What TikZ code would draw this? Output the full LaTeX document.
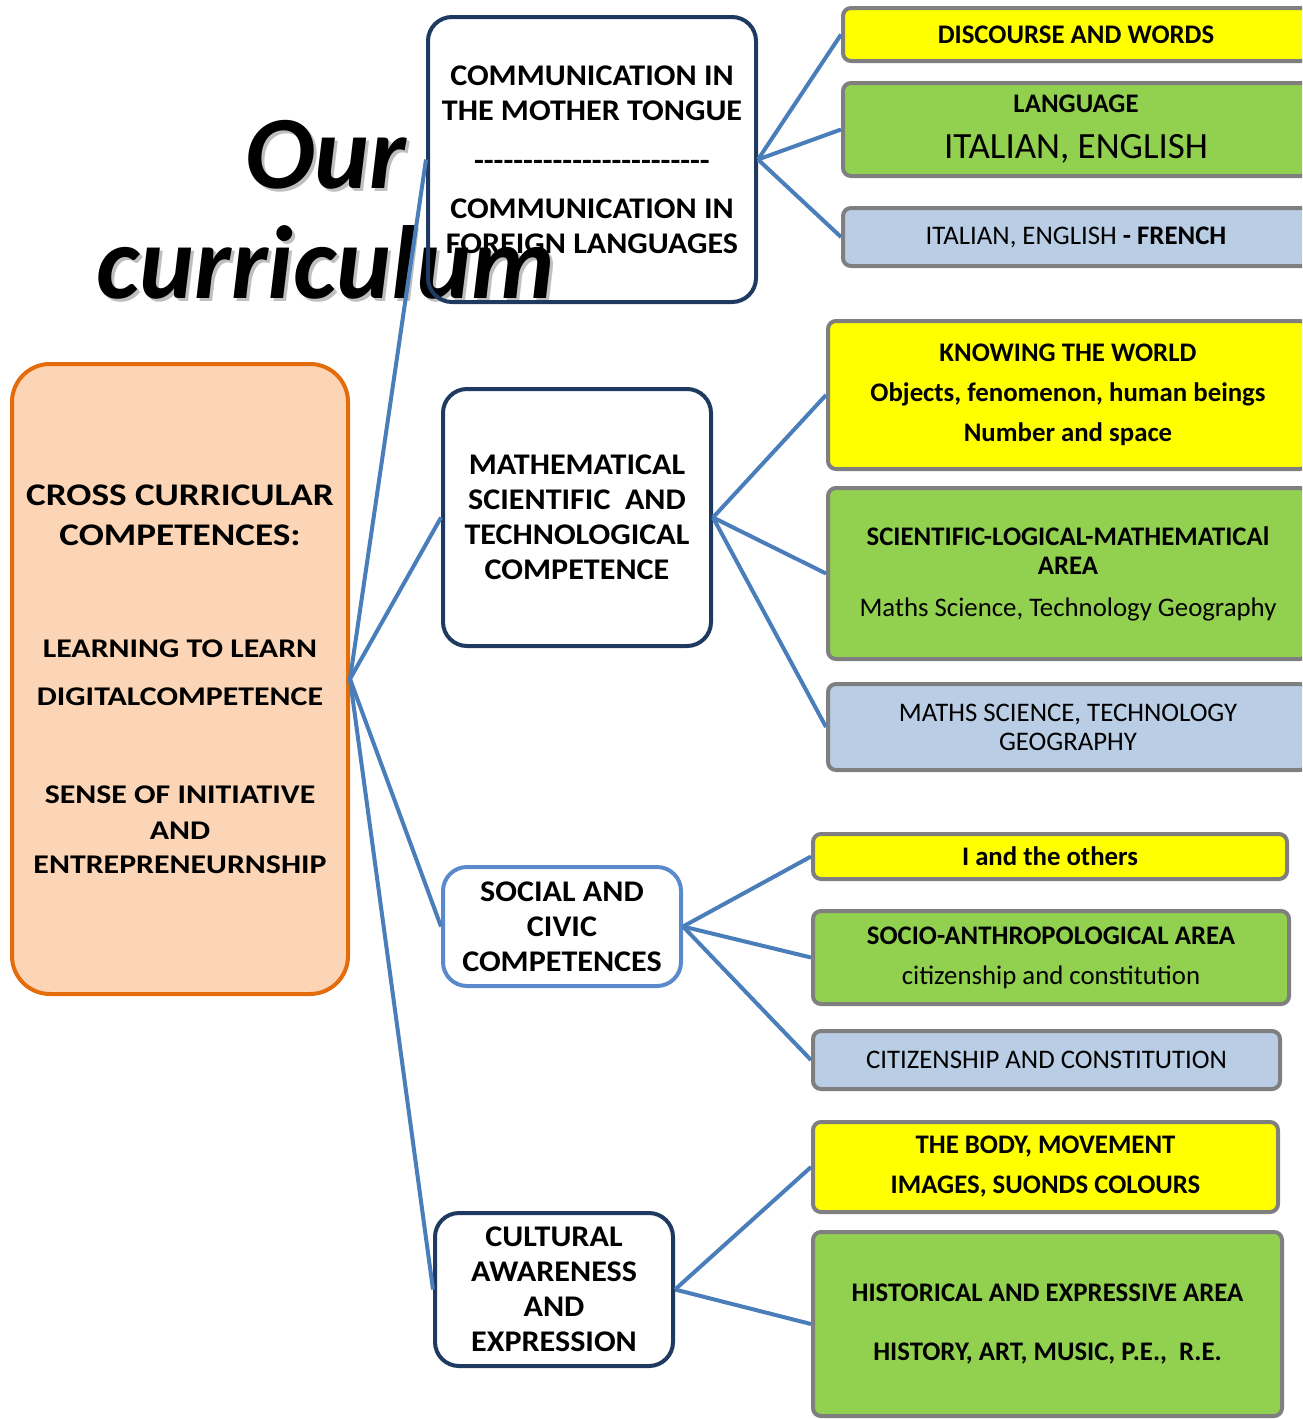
\documentclass[tikz,border=0pt]{standalone}
\usepackage{fontspec}
\setmainfont{Carlito}
\definecolor{rootfill}{HTML}{FBD5B5}
\definecolor{rootline}{HTML}{E46C0A}
\definecolor{topicline}{HTML}{1F3A60}
\definecolor{civicline}{HTML}{5A8ACB}
\definecolor{linkblue}{HTML}{4A7EBB}
\definecolor{leafline}{HTML}{7F7F7F}
\definecolor{leafyellow}{HTML}{FFFF00}
\definecolor{leafgreen}{HTML}{92D050}
\definecolor{leafblue}{HTML}{B9CDE5}
\newcommand\dashrow{\foreach \k in {1,...,24}{-\kern0pt}}
\begin{document}
\begin{tikzpicture}[x=1pt, y=-1pt,
  root/.style={draw=rootline, fill=rootfill, line width=4pt, rounded corners=38pt, align=center,
    font=\bfseries\addfontfeature{FakeStretch=1.18}\fontsize{27}{36}\selectfont},
  topic/.style={draw=topicline, line width=4pt, rounded corners=24pt, align=center,
    font=\bfseries\addfontfeature{FakeStretch=1.07}\fontsize{30}{35}\selectfont},
  leaf/.style={draw=leafline, line width=4pt, rounded corners=8pt, align=center,
    font=\fontsize{26.8}{40}\selectfont},
  link/.style={draw=linkblue, line width=4pt}]
 \clip (0,0) rectangle (1302,1419);

 % title
 \node[text=black!25, align=center, font=\bfseries\itshape\fontsize{104}{110}\selectfont] (titleshadow) at (329,213) {Our\\curriculum};
 \node[align=center, font=\bfseries\itshape\fontsize{104}{110}\selectfont] (title) at (326,210) {Our\\curriculum};

 % centre
 \node[root, minimum width=336pt, minimum height=630pt] (cross) at (180,679)
  {{\fontsize{31.5}{36}\selectfont CROSS CURRICULAR}\\[4pt]{\fontsize{31.5}{36}\selectfont COMPETENCES:}\\[76pt]
   LEARNING TO LEARN\\[12pt]DIGITALCOMPETENCE\\[62pt]SENSE OF INITIATIVE\\AND\\[-2pt]ENTREPRENEURNSHIP};

 % competences
 \node[topic, minimum width=328pt, minimum height=285pt] (comm) at (592,159.5)
  {COMMUNICATION IN\\THE MOTHER TONGUE\\[15pt]\dashrow\\[13pt]COMMUNICATION IN\\FOREIGN LANGUAGES};
 \node[topic, minimum width=268pt, minimum height=257pt] (math) at (577,517.5)
  {MATHEMATICAL\\SCIENTIFIC\ \ AND\\TECHNOLOGICAL\\COMPETENCE};
 \node[topic, draw=civicline, minimum width=238pt, minimum height=119pt] (civic) at (562,926.5)
  {SOCIAL AND\\CIVIC\\COMPETENCES};
 \node[topic, minimum width=238pt, minimum height=153pt] (culture) at (554,1289.5)
  {CULTURAL\\AWARENESS\\AND\\EXPRESSION};

 % areas
 \node[leaf, fill=leafyellow, minimum width=466pt, minimum height=53pt] (words) at (1076,34.5)
  {\textbf{DISCOURSE AND WORDS}};
 \node[leaf, fill=leafgreen, minimum width=466pt, minimum height=93pt] (language) at (1076,129.5)
  {\textbf{LANGUAGE}\\[6pt]{\fontsize{37}{40}\selectfont ITALIAN, ENGLISH}};
 \node[leaf, fill=leafblue, minimum width=466pt, minimum height=58pt] (french) at (1076,237)
  {ITALIAN, ENGLISH \textbf{- FRENCH}};

 \node[leaf, fill=leafyellow, minimum width=480pt, minimum height=148pt, font=\bfseries\fontsize{26.8}{40}\selectfont] (world) at (1068,395)
  {KNOWING THE WORLD\\Objects, fenomenon, human beings\\Number and space};
 \node[leaf, fill=leafgreen, minimum width=480pt, minimum height=171pt] (logic) at (1068,573.5)
  {\textbf{SCIENTIFIC-LOGICAL-MATHEMATICAl}\\[-11pt]\textbf{AREA}\\[2pt]Maths Science, Technology Geography};
 \node[leaf, fill=leafblue, minimum width=480pt, minimum height=86pt] (science) at (1068,727)
  {MATHS SCIENCE, TECHNOLOGY\\[-11pt]GEOGRAPHY};

 \node[leaf, fill=leafyellow, minimum width=474pt, minimum height=45pt] (others) at (1050,856.5)
  {\textbf{I and the others}};
 \node[leaf, fill=leafgreen, minimum width=476pt, minimum height=93pt] (socio) at (1051,957.5)
  {\textbf{SOCIO-ANTHROPOLOGICAL AREA}\\citizenship and constitution};
 \node[leaf, fill=leafblue, minimum width=467pt, minimum height=58pt] (citizen) at (1046.5,1060)
  {CITIZENSHIP AND CONSTITUTION};

 \node[leaf, fill=leafyellow, minimum width=465pt, minimum height=90pt, font=\bfseries\fontsize{26.8}{40}\selectfont] (body) at (1045.5,1167)
  {THE BODY, MOVEMENT\\IMAGES, SUONDS COLOURS};
 \node[leaf, fill=leafgreen, minimum width=469pt, minimum height=184pt, font=\bfseries\fontsize{26.8}{40}\selectfont] (history) at (1047.5,1324)
  {HISTORICAL AND EXPRESSIVE AREA\\[19pt]HISTORY, ART, MUSIC, P.E.,\ \ R.E.};

 % links
 \foreach \to in {comm,math,civic,culture}
  \draw[link] (cross.east) -- (\to.west);
 \foreach \to in {words,language,french}
  \draw[link] (comm.east) -- (\to.west);
 \foreach \to in {world,logic,science}
  \draw[link] (math.east) -- (\to.west);
 \foreach \to in {others,socio,citizen}
  \draw[link] (civic.east) -- (\to.west);
 \foreach \to in {body,history}
  \draw[link] (culture.east) -- (\to.west);
\end{tikzpicture}
\end{document}
